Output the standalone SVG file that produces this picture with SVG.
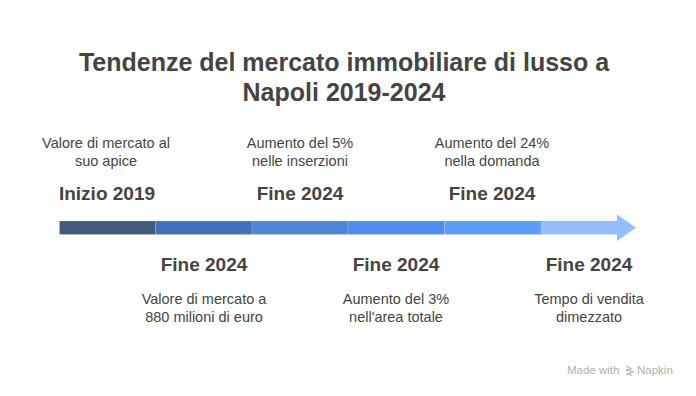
<svg xmlns="http://www.w3.org/2000/svg" width="696" height="396" viewBox="0 0 696 396">
<style>
.title{font-family:"Liberation Sans",Arial,sans-serif;font-weight:bold;font-size:25px;fill:#444;text-anchor:middle}
.year{font-family:"Liberation Sans",Arial,sans-serif;font-weight:bold;font-size:19px;fill:#444;text-anchor:middle}
.desc{font-family:"Liberation Sans",Arial,sans-serif;font-size:14.5px;fill:#444;text-anchor:middle}
.seg{stroke:#ffffff;stroke-opacity:0.15;stroke-width:1}
.wm{font-family:"Liberation Sans",Arial,sans-serif;font-size:11.5px;fill:#b0b0b0}
</style>
<rect width="696" height="396" fill="#ffffff"/>
<g id="title">
<text class="title" x="344" y="71">Tendenze del mercato immobiliare di lusso a</text>
<text class="title" x="344" y="101">Napoli 2019-2024</text>
</g>
<g id="connectors">
<rect class="seg" x="59.5" y="221" width="96" height="13.5" fill="#425A80"/>
<rect class="seg" x="155.5" y="221" width="96.5" height="13.5" fill="#4470B9"/>
<rect class="seg" x="252" y="221" width="96" height="13.5" fill="#5085D6"/>
<rect class="seg" x="348" y="221" width="96.5" height="13.5" fill="#4F8CEC"/>
<rect class="seg" x="444.5" y="221" width="96.5" height="13.5" fill="#5C9DFA"/>
<path d="M541 221 H617 V214.5 L636 227.75 L617 241 V234.5 H541 Z" fill="#96BEFD"/>
</g>
<g id="node1">
<text class="desc" x="106" y="148">Valore di mercato al</text>
<text class="desc" x="106" y="166">suo apice</text>
<text class="year" x="107" y="200">Inizio 2019</text>
</g>
<g id="node2">
<text class="year" x="204" y="271">Fine 2024</text>
<text class="desc" x="204" y="303.5">Valore di mercato a</text>
<text class="desc" x="204" y="321.5">880 milioni di euro</text>
</g>
<g id="node3">
<text class="desc" x="300" y="148">Aumento del 5%</text>
<text class="desc" x="300" y="166">nelle inserzioni</text>
<text class="year" x="300" y="200">Fine 2024</text>
</g>
<g id="node4">
<text class="year" x="396" y="271">Fine 2024</text>
<text class="desc" x="396" y="303.5">Aumento del 3%</text>
<text class="desc" x="396" y="321.5">nell'area totale</text>
</g>
<g id="node5">
<text class="desc" x="492" y="148">Aumento del 24%</text>
<text class="desc" x="492" y="166">nella domanda</text>
<text class="year" x="492" y="200">Fine 2024</text>
</g>
<g id="node6">
<text class="year" x="589" y="271">Fine 2024</text>
<text class="desc" x="589" y="303.5">Tempo di vendita</text>
<text class="desc" x="589" y="321.5">dimezzato</text>
</g>
<g id="watermark">
<text class="wm" x="567" y="374">Made with</text>
<path d="M626 366 l5 2.5 l-5 2.5 M626 369.5 l7 2.5 l-7 2.5 M627 373 l5 2.5" fill="none" stroke="#b0b0b0" stroke-width="1.3"/>
<text class="wm" x="637" y="374">Napkin</text>
</g>
</svg>
